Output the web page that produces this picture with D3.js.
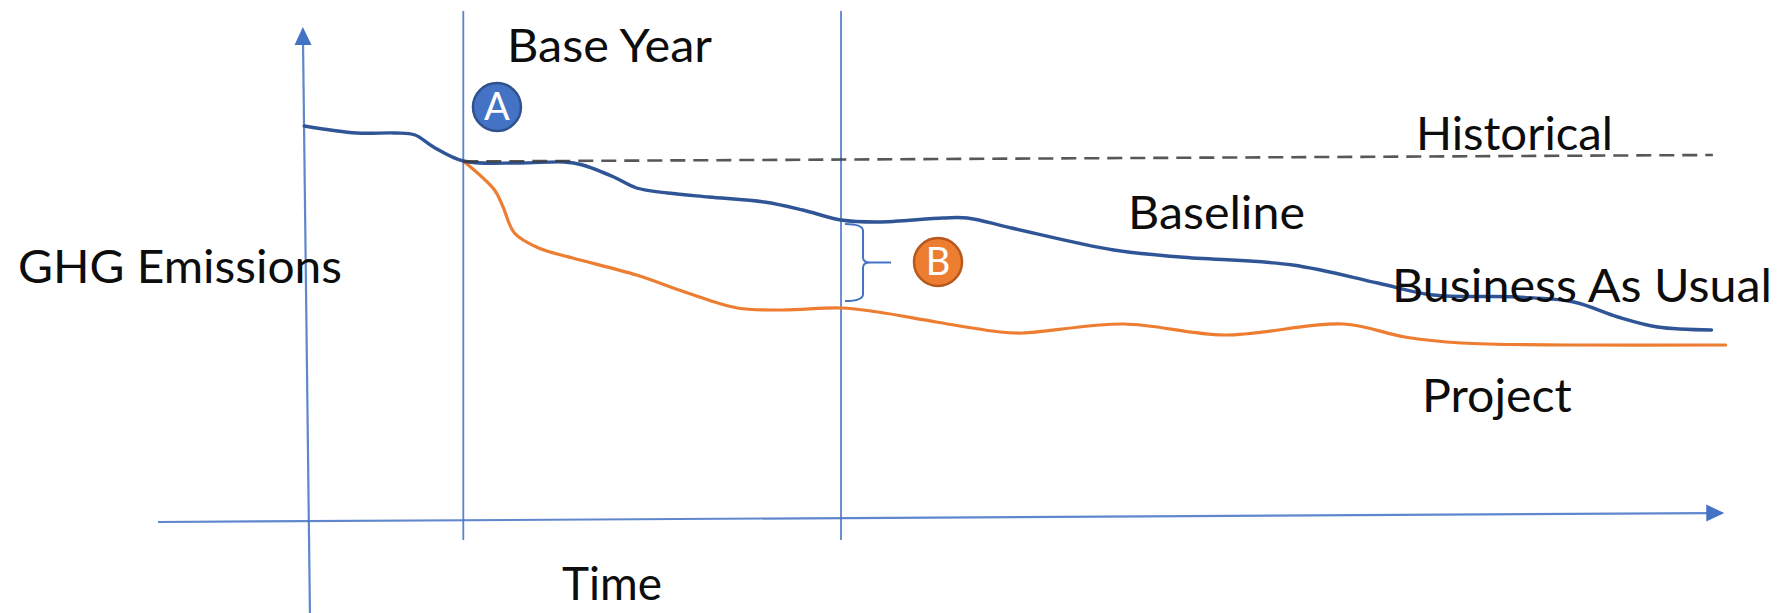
<!DOCTYPE html>
<html>
<head>
<meta charset="utf-8">
<script src="https://cdn.jsdelivr.net/npm/d3@7"></script>
<style>
  html, body { margin: 0; padding: 0; background: #ffffff; }
  svg { display: block; }
  text { font-family: Lato, "Open Sans", sans-serif; }
</style>
</head>
<body>
<svg id="chart" width="1780" height="613"></svg>
<script>
// Time (arbitrary units) and GHG emissions (arbitrary units) for each series
const bauTime = [0.3, 4.0, 6.7, 8.1, 9.4, 11.5, 15.4, 18.6, 19.9, 22.1, 23.7, 25.9, 28.8, 32.7, 35.4, 38.1,
  40.7, 45.3, 47.0, 50.1, 57.3, 62.0, 69.9, 75.9, 79.8, 85.7, 89.7, 92.8, 95.6, 99.4];
const bauEmissions = [79.2, 77.8, 77.8, 77.4, 75.0, 72.2, 71.8, 72.0, 71.4, 69.0, 66.8, 65.8, 65.0, 64.0, 62.4, 60.4,
  60.0, 60.8, 60.8, 58.8, 54.4, 53.0, 51.4, 47.8, 45.4, 45.0, 44.0, 41.0, 39.0, 38.4];

const projectTime = [11.5, 13.7, 14.3, 15.1, 16.8, 19.2, 23.7, 27.3, 30.8, 34.0, 38.1, 40.7, 44.8, 49.3, 50.9,
  58.0, 65.1, 73.5, 77.8, 81.8, 89.7, 100.4];
const projectEmissions = [72.2, 66.4, 63.0, 57.8, 54.8, 52.8, 49.4, 45.8, 42.8, 42.4, 42.8, 42.0, 40.0, 38.0, 37.8,
  39.6, 37.4, 39.6, 37.0, 35.8, 35.4, 35.4];

const historicalTime = [11.5, 99.5];
const historicalEmissions = [72.1, 73.4];

// Reference years: base year and the year where the reduction is read
const markerYears = [11.5, 38.1];
const markerSpan = [-3.6, 102.2];

// Axis arrows (start, tip) in chart units
const xAxisTime = [-10.0, 100.3];
const xAxisEmissions = [0.0, 1.8];
const yAxisTime = [0.7, 0.2];
const yAxisEmissions = [-18.2, 99.0];

// Text labels
const labelTexts = ["GHG Emissions", "Base Year", "Historical", "Baseline", "Business As Usual", "Project", "Time"];
const labelTime = [-19.86, 14.58, 78.59, 58.31, 76.9, 79.01, 18.45];
const labelEmissions = [47.8, 92.0, 74.4, 58.6, 44.0, 22.0, -15.6];

// Lettered callouts
const calloutLetters = ["A", "B"];
const calloutTime = [13.87, 44.93];
const calloutEmissions = [83.0, 52.0];

const svg = d3.select("#chart");
const x = d3.scaleLinear().domain([0, 100]).range([300, 1720]);
const y = d3.scaleLinear().domain([0, 100]).range([522, 22]);

const axisColor = "#4472C4";

// guide lines for the reference years
svg.append("g").selectAll("line").data(markerYears).join("line")
  .attr("x1", d => x(d)).attr("x2", d => x(d))
  .attr("y1", y(markerSpan[0])).attr("y2", y(markerSpan[1]))
  .attr("stroke", "#5B83CE").attr("stroke-width", 1.8);

// axes with arrow heads
function arrow(ts, es) {
  const x0 = x(ts[0]), y0 = y(es[0]), x1 = x(ts[1]), y1 = y(es[1]);
  const len = Math.hypot(x1 - x0, y1 - y0);
  const ux = (x1 - x0) / len, uy = (y1 - y0) / len;
  const headLen = 18, headHalf = 8.5;
  const hx = x1 - ux * headLen, hy = y1 - uy * headLen;
  svg.append("line")
    .attr("x1", x0).attr("y1", y0).attr("x2", hx + ux * 2).attr("y2", hy + uy * 2)
    .attr("stroke", axisColor).attr("stroke-width", 2.2).attr("stroke-opacity", 0.85);
  svg.append("path")
    .attr("d", `M${x1},${y1}L${hx - uy * headHalf},${hy + ux * headHalf}L${hx + uy * headHalf},${hy - ux * headHalf}Z`)
    .attr("fill", axisColor);
}
arrow(xAxisTime, xAxisEmissions);
arrow(yAxisTime, yAxisEmissions);

const line = d3.line().x(d => x(d[0])).y(d => y(d[1])).curve(d3.curveCatmullRom.alpha(0.5));

const project = d3.zip(projectTime, projectEmissions);
const bau = d3.zip(bauTime, bauEmissions);
const historical = d3.zip(historicalTime, historicalEmissions);

svg.append("path").datum(project).attr("d", line)
  .attr("fill", "none").attr("stroke", "#ED7D31").attr("stroke-width", 3.2).attr("stroke-linecap", "round");

svg.append("path").datum(bau).attr("d", line)
  .attr("fill", "none").attr("stroke", "#2F5597").attr("stroke-width", 3.4).attr("stroke-linecap", "round");

svg.append("path").datum(historical).attr("d", d3.line().x(d => x(d[0])).y(d => y(d[1])))
  .attr("fill", "none").attr("stroke", "#3a3a3a").attr("stroke-width", 2.6)
  .attr("stroke-dasharray", "15 8").attr("stroke-opacity", 0.85);

// brace marking the gap between baseline and project at the reading year
const readYear = markerYears[1];
const bauAt = bauEmissions[bauTime.indexOf(readYear)];
const projAt = projectEmissions[projectTime.indexOf(readYear)];
const braceX0 = x(readYear) + 4, braceX = x(readYear) + 22, braceTip = x(readYear) + 50;
const braceTop = y(bauAt) + 5, braceBottom = y(projAt) - 8, braceMid = (braceTop + braceBottom) / 2;
svg.append("path")
  .attr("d", `M${braceX0},${braceTop - 1} Q${braceX},${braceTop - 1} ${braceX},${braceTop + 6} L${braceX},${braceMid - 5} Q${braceX},${braceMid} ${braceX + 7},${braceMid}` +
    ` L${braceTip},${braceMid} M${braceX + 7},${braceMid} Q${braceX},${braceMid} ${braceX},${braceMid + 5} L${braceX},${braceBottom - 6} Q${braceX},${braceBottom + 1} ${braceX0},${braceBottom + 1}`)
  .attr("fill", "none").attr("stroke", axisColor).attr("stroke-width", 2);

// callouts
const calloutFill = ["#4472C4", "#ED7D31"];
const calloutStroke = ["#2F528F", "#B9581E"];
const callouts = svg.append("g").selectAll("g").data(calloutLetters).join("g")
  .attr("transform", (d, i) => `translate(${x(calloutTime[i])},${y(calloutEmissions[i])})`);
callouts.append("circle").attr("r", 24)
  .attr("fill", (d, i) => calloutFill[i]).attr("stroke", (d, i) => calloutStroke[i]).attr("stroke-width", 2.5);
callouts.append("text").text(d => d)
  .attr("text-anchor", "middle").attr("dy", 13)
  .attr("font-size", 38).attr("fill", "#ffffff");

// text labels, each fitted to its set width
const labelWidths = [324, 205, 197, 177, 380, 150, 100];
svg.append("g").selectAll("text").data(labelTexts).join("text")
  .text(d => d)
  .attr("x", (d, i) => x(labelTime[i]))
  .attr("y", (d, i) => y(labelEmissions[i]))
  .attr("font-size", 47)
  .attr("fill", "#0d0d0d")
  .attr("textLength", (d, i) => labelWidths[i])
  .attr("lengthAdjust", "spacingAndGlyphs");
</script>
</body>
</html>
